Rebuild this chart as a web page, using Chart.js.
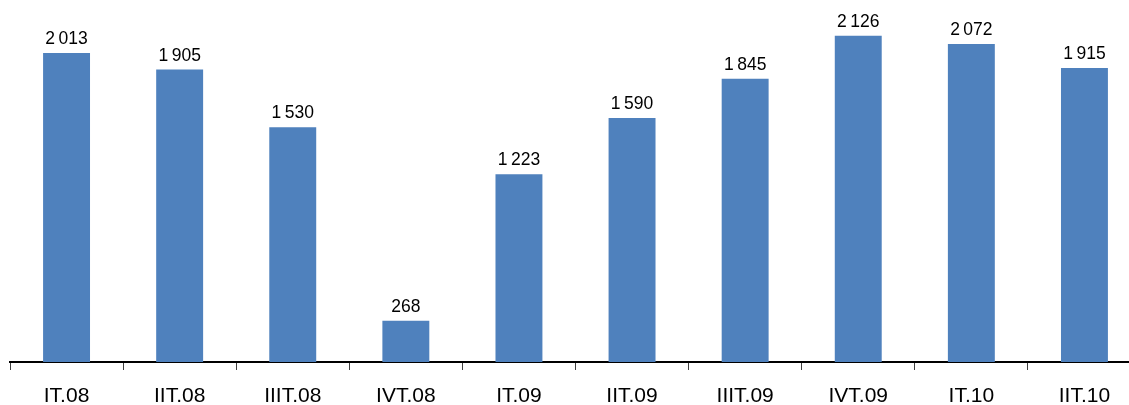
<!DOCTYPE html>
<html>
<head>
<meta charset="utf-8">
<script src="https://cdn.jsdelivr.net/npm/chart.js@4/dist/chart.umd.min.js"></script>
<style>
  html, body { margin: 0; padding: 0; background: #fff; overflow: hidden; }
  #wrap { width: 1141px; height: 405px; }
</style>
</head>
<body>
<div id="wrap"><canvas id="c" width="1141" height="405"></canvas></div>
<script>
const categories = ["IT.08", "IIT.08", "IIIT.08", "IVT.08", "IT.09", "IIT.09", "IIIT.09", "IVT.09", "IT.10", "IIT.10"];
const values = [2013, 1905, 1530, 268, 1223, 1590, 1845, 2126, 2072, 1915];

function fmt(v) {
  const s = String(v);
  return s.length > 3 ? s.slice(0, s.length - 3) + "\u2009" + s.slice(-3) : s;
}

const valueLabels = {
  id: "valueLabels",
  afterDatasetsDraw(chart) {
    const ctx = chart.ctx;
    const meta = chart.getDatasetMeta(0);
    ctx.save();
    ctx.font = "17.5px 'Liberation Sans', Arial, sans-serif";
    ctx.fillStyle = "#000";
    ctx.textAlign = "center";
    ctx.textBaseline = "alphabetic";
    meta.data.forEach((bar, i) => {
      ctx.fillText(fmt(values[i]), bar.x, bar.y - 9);
    });
    ctx.restore();
  }
};

new Chart(document.getElementById("c"), {
  type: "bar",
  data: {
    labels: categories,
    datasets: [{
      data: values,
      backgroundColor: "#4F81BD",
      borderWidth: 0,
      barPercentage: 0.83,
      categoryPercentage: 0.5
    }]
  },
  options: {
    responsive: false,
    animation: false,
    layout: { padding: { top: 9, left: 10, right: 0, bottom: 0 } },
    plugins: { legend: { display: false }, tooltip: { enabled: false } },
    scales: {
      y: { display: false, min: 0, max: 2300 },
      x: {
        offset: true,
        afterFit(scale) { scale.height = 43; },
        grid: { display: true, drawOnChartArea: false, drawTicks: true, tickLength: 8, color: "#404040", lineWidth: 1, offset: true },
        border: { display: true, color: "#000", width: 2 },
        ticks: { color: "#000", padding: 14, font: { family: "'Liberation Sans', Arial, sans-serif", size: 21 }, maxRotation: 0, autoSkip: false }
      }
    }
  },
  plugins: [valueLabels]
});
</script>
</body>
</html>
